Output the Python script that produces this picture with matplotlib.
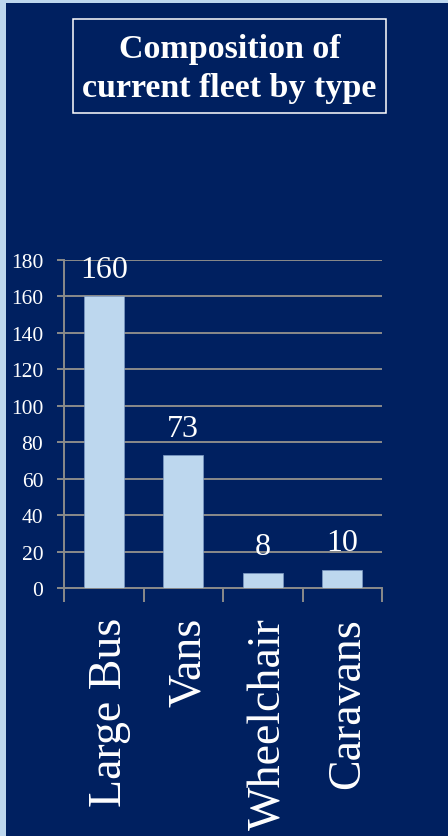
import matplotlib

matplotlib.use("Agg")
import matplotlib.pyplot as plt
from matplotlib.patches import Rectangle

categories = ["Large Bus", "Vans", "Wheelchair", "Caravans"]
counts = [160, 73, 8, 10]
y_ticks = [0, 20, 40, 60, 80, 100, 120, 140, 160, 180]
title_lines = ["Composition of", "current fleet by type"]

NAVY = "#002060"
PALE = "#bdd7ee"
GRID = "#8a8a8a"
SERIF = ["Liberation Serif", "DejaVu Serif"]

W, H = 448, 837
fig = plt.figure(figsize=(W / 100, H / 100), dpi=100, facecolor=PALE)

# navy panel inside the pale frame (frame shows on left and top only)
fig.patches.append(Rectangle((6 / W, 0), 1 - 6 / W, 1 - 4 / H,
                             transform=fig.transFigure, facecolor=NAVY,
                             edgecolor="none", zorder=-5))

# boxed title
fig.patches.append(Rectangle((73 / W, 1 - 114 / H), (386 - 73) / W, (114 - 20) / H,
                             transform=fig.transFigure, facecolor="none",
                             edgecolor="white", linewidth=1.1, zorder=2))
fig.text(229.5 / W, 1 - 58 / H, title_lines[0], ha="center", va="baseline",
         color="white", fontsize=24.5, fontweight="bold", family=SERIF)
fig.text(229.5 / W, 1 - 97 / H, title_lines[1], ha="center", va="baseline",
         color="white", fontsize=24.5, fontweight="bold", family=SERIF)

ax = fig.add_axes([64 / W, 1 - 589 / H, (382 - 64) / W, (589 - 261) / H])
ax.set_facecolor("none")

x = list(range(len(categories)))
ax.bar(x, counts, width=0.5, color=PALE, edgecolor="#7f9cc4",
       linewidth=0.5, zorder=3)
for xi, v in zip(x, counts):
    ax.annotate(str(v), (xi, v), xytext=(0, 14), textcoords="offset points",
                ha="center", va="baseline", color="white", fontsize=23,
                family=SERIF, zorder=4)

ax.set_xlim(-0.5, len(categories) - 0.5)
ax.set_ylim(0, 180)
ax.set_yticks(y_ticks)
ax.set_yticklabels([str(t) for t in y_ticks], family=SERIF, fontsize=15.5,
                   color="white")
# label ticks sit a touch right of centre so the glyphs line up with the bars
ax.set_xticks([xi + 0.075 for xi in x])
ax.set_xticklabels(categories, rotation=90, family=SERIF, fontsize=33,
                   color="white")
ax.set_xticks([i - 0.5 for i in range(len(categories) + 1)], minor=True)

ax.tick_params(axis="y", length=5, width=1.4, color=GRID, pad=10)
ax.tick_params(axis="x", which="major", length=0, pad=21)
ax.tick_params(axis="x", which="minor", length=10, width=1.4, color=GRID,
               direction="out")

ax.grid(axis="y", color=GRID, linewidth=1.4, zorder=1)
ax.set_axisbelow(True)
for side in ("top", "right"):
    ax.spines[side].set_visible(False)
for side in ("left", "bottom"):
    ax.spines[side].set_color(GRID)
    ax.spines[side].set_linewidth(1.4)

fig.savefig("out.png", dpi=100, facecolor=PALE)
